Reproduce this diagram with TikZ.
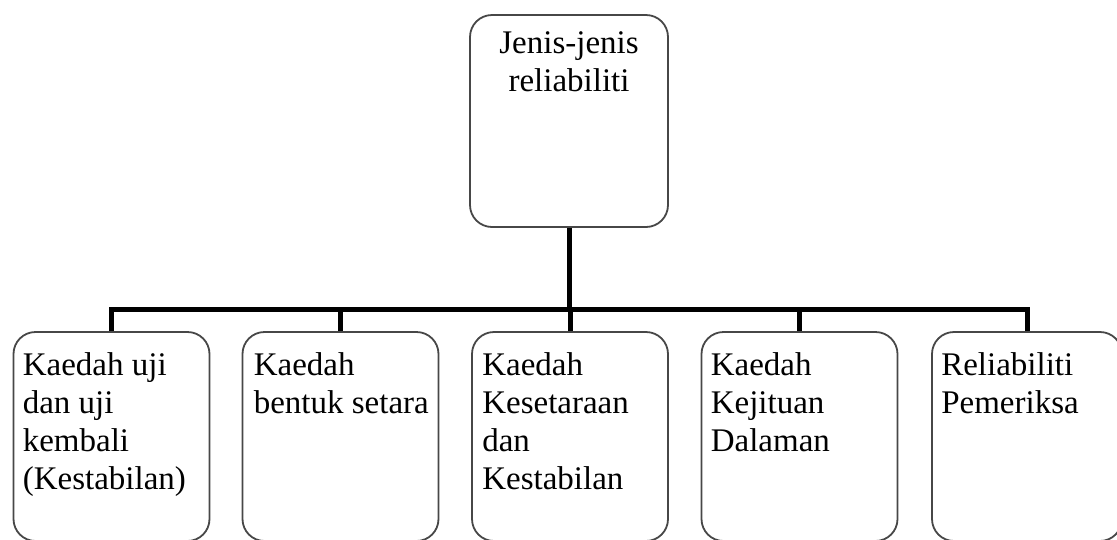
\documentclass[tikz,border=0pt]{standalone}
\usepackage{fontspec}
\setmainfont{Liberation Serif}
\usetikzlibrary{positioning}

\tikzset{
	box/.style={draw=black!72, line width=1.8pt, rounded corners=22pt,
		minimum width=196pt, minimum height=209pt, inner sep=0pt},
	lbl/.style={align=left, inner sep=0pt, font=\fontsize{33}{38}\selectfont},
	link/.style={line width=5pt}
}

\begin{document}
\begin{tikzpicture}[x=1pt,y=-1pt]
	\useasboundingbox (0,0) rectangle (1117,539);
	\clip (0,0) rectangle (1117,539);
	
	\node[box, minimum width=198pt, minimum height=212pt] (top) at (569,121) {};
	\node[lbl, align=center, below=17pt of top.north] (ttop) {Jenis-jenis\\reliabiliti};
	
	\node[box] (b1) at (111.5,436.5) {};
	\node[lbl, below right=21pt and 10pt of b1.north west] (t1) {Kaedah uji\\dan uji\\kembali\\(Kestabilan)};
	
	\node[box] (b2) at (340.5,436.5) {};
	\node[lbl, below right=21pt and 12pt of b2.north west] (t2) {Kaedah\\bentuk setara};
	
	\node[box] (b3) at (570,436.5) {};
	\node[lbl, below right=21pt and 11pt of b3.north west] (t3) {Kaedah\\Kesetaraan\\dan\\Kestabilan};
	
	\node[box] (b4) at (799.5,436.5) {};
	\node[lbl, below right=21pt and 10pt of b4.north west] (t4) {Kaedah\\Kejituan\\Dalaman};
	
	\node[box, minimum width=190pt] (b5) at (1027,436.5) {};
	\node[lbl, below right=21pt and 10pt of b5.north west] (t5) {Reliabiliti\\Pemeriksa};
	
	% the bar
	\coordinate (bar) at (0,309);
	\draw[link] (top.south) -- (top.south |- bar);
	\draw[link] (b1.north) -- (b1.north |- bar) -| (b5.north);
	\draw[link] (b2.north) -- (b2.north |- bar);
	\draw[link] (b3.north) -- (b3.north |- bar);
	\draw[link] (b4.north) -- (b4.north |- bar);
\end{tikzpicture}
\end{document}
